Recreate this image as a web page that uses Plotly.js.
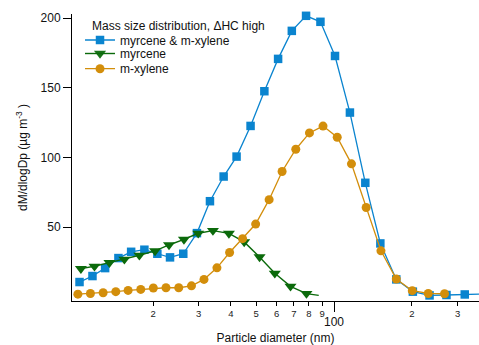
<!DOCTYPE html>
<html>
<head>
<meta charset="utf-8">
<script src="https://cdn.plot.ly/plotly-3.0.1.min.js"></script>
<style>html,body{margin:0;padding:0;background:#fff;overflow:hidden;}</style>
</head>
<body>
<div id="chart" style="width:479px;height:345px;"></div>
<script>
// Particle diameters (nm) and dM/dlogDp values (µg m^-3)
const seriesNames = ["myrcene & m-xylene", "myrcene", "m-xylene"];
const legendTitle = "Mass size distribution, \u0394HC high";

const dpMix = [10.40, 11.67, 13.06, 14.70, 16.46, 18.52, 20.78, 23.26, 26.17, 29.55,
  33.18, 37.47, 42.04, 47.61, 53.83, 60.82, 68.71, 77.99, 88.63, 100.9,
  115.2, 132.1, 151.0, 174.0, 201.6, 233.9, 271.9, 319.9, 377.6];
const massMix = [10.6, 14.9, 20.6, 27.8, 32.3, 33.8, 30.9, 28.3, 30.9, 45.7,
  68.6, 86.3, 100.6, 122.6, 147.5, 170.7, 190.8, 201.6, 197.3, 172.8,
  132.2, 81.8, 38.3, 12.5, 3.7, 1.0, 1.3, 1.7, 2.0];

const dpMyr = [10.53, 11.88, 13.57, 15.50, 17.71, 20.36, 23.05, 26.33, 29.89, 34.07,
  39.27, 44.98, 51.57, 59.06, 67.91, 78.26, 87.30];
const massMyr = [20.2, 21.9, 24.5, 26.9, 29.8, 32.9, 37.2, 41.2, 45.6, 47.5,
  45.5, 39.4, 28.6, 16.9, 7.5, 2.3, 1.0];

const dpXyl = [10.25, 11.46, 12.83, 14.36, 16.02, 17.93, 20.05, 22.44, 25.13, 28.15,
  31.46, 35.30, 39.51, 44.35, 49.81, 56.15, 63.03, 71.18, 80.39, 90.69,
  102.9, 116.8, 133.1, 151.8, 174.0, 200.6, 231.2, 267.2];
const massXyl = [1.9, 2.4, 2.9, 3.7, 4.6, 5.3, 6.3, 6.5, 6.5, 7.9,
  12.5, 20.8, 31.8, 41.7, 52.2, 69.7, 89.9, 105.9, 117.6, 122.5,
  114.5, 95.4, 64.1, 33.0, 12.8, 4.4, 2.4, 2.2];

const minorTickVals = [20, 30, 40, 50, 60, 70, 80, 90, 200, 300];
const minorTickText = ["2", "3", "4", "5", "6", "7", "8", "9", "2", "3"];
const majorTickVals = [100];
const majorTickText = ["100"];
const yTickVals = [50, 100, 150, 200];

const cBlue = "#0a84cf", cGreen = "#0b6a0b", cOrange = "#d38e0b";
const FONT = "Liberation Sans, Arial, sans-serif";

// hide marker of the final myrcene point (line end only)
const myrOpacity = dpMyr.map((d, i) => i === dpMyr.length - 1 ? 0 : 1);

const traces = [
  {x: dpMix, y: massMix, name: seriesNames[0], type: "scatter", mode: "lines+markers",
   line: {color: cBlue, width: 1.3}, marker: {symbol: "square", size: 8.5, color: cBlue},
   legend: "legend", cliponaxis: false},
  {x: dpMyr, y: massMyr, name: seriesNames[1], type: "scatter", mode: "lines+markers",
   line: {color: cGreen, width: 1.4},
   marker: {symbol: "triangle-down", size: 10.5, color: cGreen, opacity: myrOpacity},
   legend: "legend2", cliponaxis: false},
  {x: dpXyl, y: massXyl, name: seriesNames[2], type: "scatter", mode: "lines+markers",
   line: {color: cOrange, width: 1.3}, marker: {symbol: "circle", size: 9, color: cOrange},
   legend: "legend3", cliponaxis: false}
];

// plot area: top 14 px, bottom 301 px (287 px tall)
const pyTop = 14, pyBot = 301, pH = pyBot - pyTop;
const yPaper = py => (pyBot - py) / pH;

const legBase = {xanchor: "left", yanchor: "middle", bgcolor: "rgba(0,0,0,0)",
  borderwidth: 0, font: {family: FONT, size: 12, color: "#111"}, itemsizing: "trace"};

const layout = {
  width: 479, height: 345,
  margin: {l: 72, r: 0, t: pyTop, b: 345 - pyBot, pad: 0},
  paper_bgcolor: "#fff", plot_bgcolor: "#fff",
  font: {family: FONT, size: 12, color: "#111"},
  showlegend: true,
  legend: Object.assign({}, legBase, {x: 0.0197, y: yPaper(40)}),
  legend2: Object.assign({}, legBase, {x: 0.0197, y: yPaper(53.5)}),
  legend3: Object.assign({}, legBase, {x: 0.0197, y: yPaper(68.7)}),
  xaxis: {
    type: "log", range: [0.988, 2.56], showgrid: false, zeroline: false,
    showline: true, linecolor: "#000", linewidth: 1, mirror: false,
    ticks: "outside", ticklen: 4, tickwidth: 1, tickcolor: "#000",
    tickvals: minorTickVals, ticktext: minorTickText,
    tickfont: {family: FONT, size: 9.5, color: "#222"},
    title: {text: "Particle diameter (nm)", font: {family: FONT, size: 12, color: "#111"}, standoff: 18},
    automargin: false
  },
  xaxis2: {
    type: "log", range: [0.988, 2.56], overlaying: "x", side: "bottom", anchor: "y",
    showgrid: false, zeroline: false, showline: false,
    ticks: "outside", ticklen: 10, tickwidth: 1, tickcolor: "#000",
    tickvals: majorTickVals, ticktext: majorTickText,
    tickfont: {family: FONT, size: 12, color: "#111"}, automargin: false
  },
  yaxis: {
    range: [-3, 202.9], showgrid: false, zeroline: false,
    showline: true, linecolor: "#000", linewidth: 1,
    ticks: "outside", ticklen: 8, tickwidth: 1, tickcolor: "#000",
    tickvals: yTickVals, tickfont: {family: FONT, size: 12, color: "#111"},
    title: {text: "dM/dlogDp (\u00b5g m<sup>-3</sup> )", font: {family: FONT, size: 12, color: "#111"}, standoff: 10},
    automargin: false
  },
  annotations: [
    {text: legendTitle, xref: "paper", yref: "paper", x: 0.0442, y: yPaper(25.7),
     xanchor: "left", yanchor: "middle", showarrow: false,
     font: {family: FONT, size: 12, color: "#111"}}
  ]
};

// invisible helper trace so the second x axis (major tick "100") is drawn
traces.push({x: [100], y: [null], xaxis: "x2", yaxis: "y", type: "scatter", mode: "markers",
  showlegend: false, hoverinfo: "skip", marker: {opacity: 0}});

Plotly.newPlot("chart", traces, layout, {displayModeBar: false, staticPlot: true});
</script>
</body>
</html>
